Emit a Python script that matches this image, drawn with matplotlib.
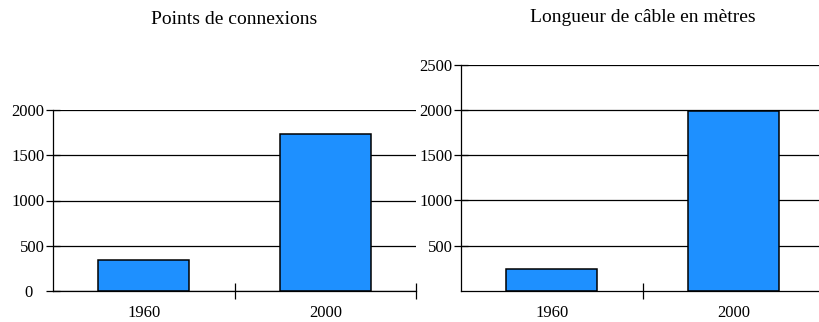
import matplotlib.pyplot as plt
from matplotlib.transforms import ScaledTranslation

years = ["1960", "2000"]
connexions = [340, 1740]
cable = [240, 1990]
titles = ["Points de connexions", "Longueur de câble en mètres"]

plt.rcParams['font.family'] = ['Liberation Serif', 'DejaVu Serif']
plt.rcParams['font.size'] = 12

fig = plt.figure(figsize=(8.19, 3.22), dpi=100)
ax1 = fig.add_axes([53 / 819, 31 / 322, 363 / 819, 181 / 322])
ax2 = fig.add_axes([461 / 819, 31 / 322, 363 / 819, 226.3 / 322])

pos = [0.5, 1.5]


def style(ax, values, yticks, ymax):
    ax.set_axisbelow(True)
    ax.bar(pos, values, width=0.5, color='#1E90FF', edgecolor='black', linewidth=1.1)
    ax.set_xlim(0, 2)
    ax.set_ylim(0, ymax)
    ax.set_yticks(yticks)
    ax.yaxis.grid(True, color='black', linewidth=0.9)
    ax.set_xticks([1, 2])
    ax.set_xticklabels([])
    ax.set_xticks(pos, minor=True)
    ax.set_xticklabels(years, minor=True)
    ax.tick_params(axis='x', which='major', direction='inout', length=11, width=0.9)
    ax.tick_params(axis='x', which='minor', length=0, pad=10)
    ax.tick_params(axis='y', direction='inout', length=10, width=0.9, pad=1)
    for s in ['top', 'right']:
        ax.spines[s].set_visible(False)
    for s in ['left', 'bottom']:
        ax.spines[s].set_linewidth(0.9)


style(ax1, connexions, [0, 500, 1000, 1500, 2000], 2000)
style(ax2, cable, [500, 1000, 1500, 2000, 2500], 2500)

# the "0" label sits further left in the original
zero = ax1.get_yticklabels()[0]
zero.set_transform(zero.get_transform() + ScaledTranslation(-0.12, 0, fig.dpi_scale_trans))

fig.text(234.5 / 819, 1 - 20 / 322, titles[0], ha='center', va='center', fontsize=14)
fig.text(643 / 819, 1 - 17 / 322, titles[1], ha='center', va='center', fontsize=14)

fig.savefig('out.png', dpi=100)
